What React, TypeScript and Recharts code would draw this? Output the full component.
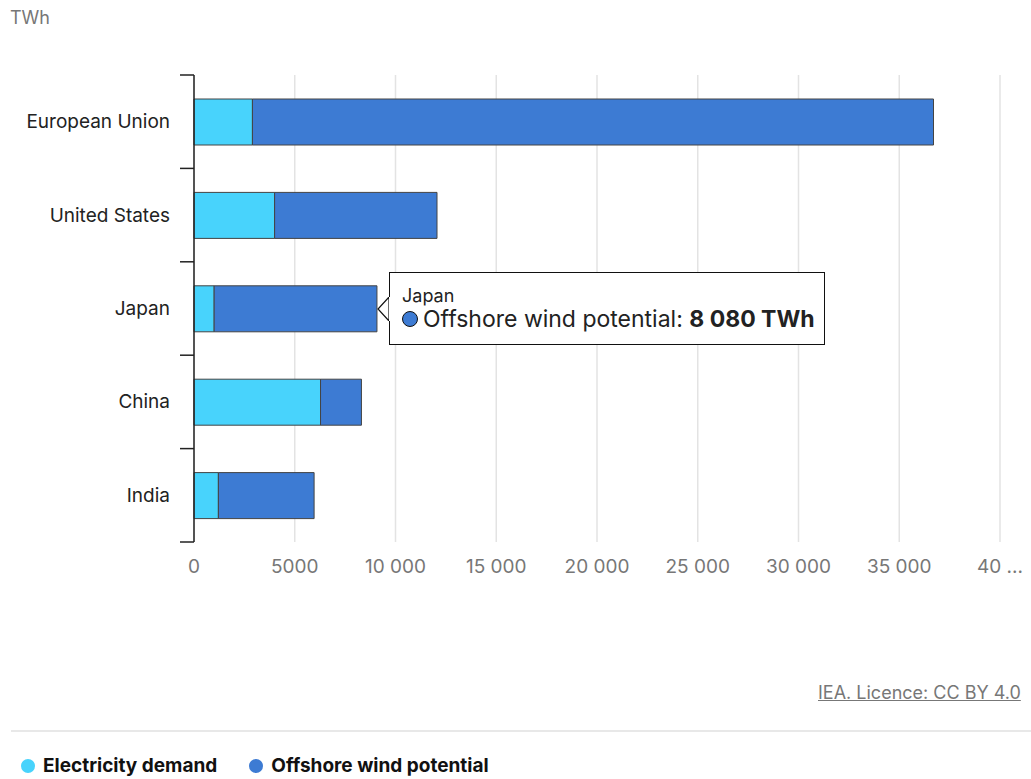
import React from "react";
import {
  BarChart,
  Bar,
  XAxis,
  YAxis,
  CartesianGrid,
  Tooltip,
} from "recharts";

const regions = ["European Union", "United States", "Japan", "China", "India"];
const electricityDemand = [2900, 4000, 1000, 6280, 1210];
const offshoreWind = [33800, 8060, 8080, 2030, 4750];
const xTicks = [0, 5000, 10000, 15000, 20000, 25000, 30000, 35000, 40000];

const LIGHT = "#48d3fc";
const DARK = "#3d7bd3";
const FONT = "Inter, 'Noto Sans', sans-serif";

// plot geometry (used for the y axis boundary ticks)
const PLOT_LEFT = 194;
const BAND = 93.4;

const data = regions.map((name, i) => ({
  name,
  demand: electricityDemand[i],
  offshore: offshoreWind[i],
}));

const spaced = (v: number) => v.toLocaleString("en-US").replace(/,/g, " ");

// axis labels: no separator below 10 000, last one cut off as in the source
const axisFmt = (v: number) => {
  if (v === 40000) return "40 ...";
  if (v < 10000) return String(v);
  return spaced(v);
};

function RegionTick(props: any) {
  const { y, payload, index } = props;
  const last = index === regions.length - 1;
  return (
    <g>
      <text
        x={PLOT_LEFT - 24}
        y={y}
        textAnchor="end"
        dominantBaseline="central"
        fontSize={19}
        fill="#222"
        fontFamily={FONT}
      >
        {payload.value}
      </text>
      <line x1={PLOT_LEFT - 14} x2={PLOT_LEFT} y1={y - BAND / 2} y2={y - BAND / 2} stroke="#222" strokeWidth={1.5} />
      {last && (
        <line x1={PLOT_LEFT - 14} x2={PLOT_LEFT} y1={y + BAND / 2} y2={y + BAND / 2} stroke="#222" strokeWidth={1.5} />
      )}
    </g>
  );
}

function TipContent({ payload, label }: any) {
  if (!payload || !payload.length) return null;
  const item = payload.find((p: any) => p.dataKey === "offshore") || payload[0];
  return (
    <div style={{ position: "relative", marginLeft: 11, fontFamily: FONT }}>
      <svg width={13} height={24} style={{ position: "absolute", left: -12, top: 25 }}>
        <polygon points="12,0 1,12 12,24" fill="#fff" stroke="#111" strokeWidth={1.2} />
        <rect x={12} y={0} width={2} height={24} fill="#fff" />
      </svg>
      <div
        style={{
          background: "#fff",
          border: "1.5px solid #111",
          width: 436,
          height: 73,
          boxSizing: "border-box",
          padding: "13px 12px 0 12px",
          color: "#222",
        }}
      >
        <div style={{ fontSize: 18, lineHeight: "19px" }}>{label}</div>
        <div style={{ fontSize: 23, lineHeight: "28px", display: "flex", alignItems: "center", whiteSpace: "nowrap" }}>
          <span
            style={{
              display: "inline-block",
              flexShrink: 0,
              width: 14,
              height: 14,
              borderRadius: "50%",
              background: DARK,
              border: "1.5px solid #111",
              marginRight: 5,
            }}
          />
          <span>Offshore wind potential:&nbsp;</span>
          <b>{spaced(item.value)} TWh</b>
        </div>
      </div>
    </div>
  );
}

export default function App() {
  return (
    <div style={{ position: "absolute", left: 0, top: 0, width: 1031, height: 779, overflow: "hidden", background: "#fff", fontFamily: FONT }}>
      <div style={{ position: "absolute", left: 10, top: 7, fontSize: 18, color: "#777" }}>TWh</div>
      <div style={{ position: "absolute", left: 0, top: 0 }}>
        <BarChart
          width={1031}
          height={602}
          data={data}
          layout="vertical"
          margin={{ top: 75, right: 31, left: 0, bottom: 0 }}
          barSize={46}
        >
          <CartesianGrid horizontal={false} stroke="#e3e3e3" strokeWidth={1.5} />
          <XAxis
            type="number"
            domain={[0, 40000]}
            ticks={xTicks}
            tickFormatter={axisFmt}
            axisLine={false}
            tickLine={false}
            tickMargin={12}
            height={60}
            tick={{ fontSize: 19, fill: "#777", fontFamily: FONT }}
          />
          <YAxis
            type="category"
            dataKey="name"
            width={194}
            axisLine={{ stroke: "#222", strokeWidth: 1.5 }}
            tickLine={false}
            tick={<RegionTick />}
          />
          <Tooltip
            content={<TipContent />}
            defaultIndex={2}
            active={true}
            cursor={false}
            position={{ x: 378, y: 272 }}
            isAnimationActive={false}
            wrapperStyle={{ outline: "none" }}
          />
          <Bar dataKey="demand" stackId="a" fill={LIGHT} stroke="#444" strokeWidth={1} isAnimationActive={false} />
          <Bar dataKey="offshore" stackId="a" fill={DARK} stroke="#444" strokeWidth={1} isAnimationActive={false} />
        </BarChart>
      </div>
      <div
        style={{
          position: "absolute",
          left: 818,
          top: 682,
          fontSize: 18,
          color: "#777",
          textDecoration: "underline",
          whiteSpace: "nowrap",
        }}
      >
        IEA. Licence: CC BY 4.0
      </div>
      <div style={{ position: "absolute", left: 11, top: 730, width: 1020, height: 2, background: "#e8e8e8" }} />
      <div style={{ position: "absolute", left: 21, top: 754, display: "flex", alignItems: "center", fontSize: 19, fontWeight: 700, color: "#111", whiteSpace: "nowrap" }}>
        <span style={{ width: 14, height: 14, borderRadius: "50%", background: LIGHT, display: "inline-block", marginRight: 8 }} />
        <span style={{ marginRight: 32 }}>Electricity demand</span>
        <span style={{ width: 14, height: 14, borderRadius: "50%", background: DARK, display: "inline-block", marginRight: 8 }} />
        <span>Offshore wind potential</span>
      </div>
    </div>
  );
}
